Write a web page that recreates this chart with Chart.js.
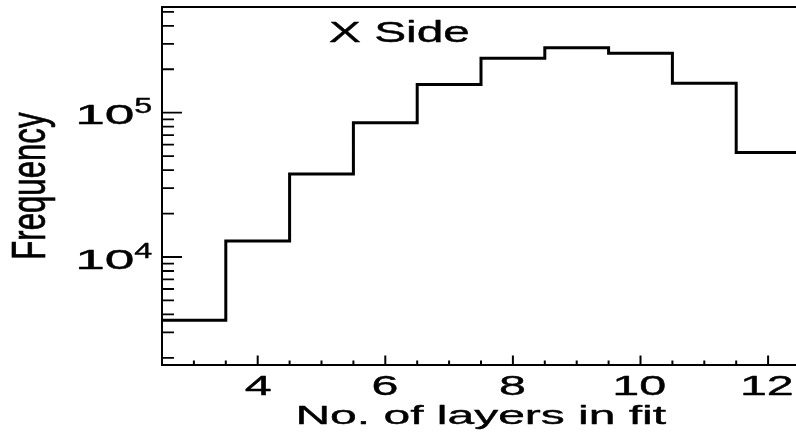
<!DOCTYPE html>
<html>
<head>
<meta charset="utf-8">
<script src="https://cdn.jsdelivr.net/npm/chart.js@4/dist/chart.umd.min.js"></script>
<style>
  html, body { margin: 0; padding: 0; background: #fff; overflow: hidden; }
  #wrap { position: relative; width: 796px; height: 433px; overflow: hidden; }
  canvas { display: block; }
</style>
</head>
<body>
<div id="wrap"><canvas id="c" width="806" height="433"></canvas></div>
<script>
// Number of layers used in the track fit (bin centres) and entries per bin
const layers = [3, 4, 5, 6, 7, 8, 9, 10, 11, 12];
const counts = [3650, 12900, 37600, 85200, 157000, 238000, 282000, 258000, 160000, 52900];
const binWidth = 1;

// Axis ranges and labelled ticks
const xRange = [2.5, 12.5];
const yRange = [1785, 540000];
const xMajorTicks = [4, 6, 8, 10, 12];
const xMinorStep = 0.5;
const yLabelPowers = [4, 5];

const xTitle = 'No. of layers in fit';
const yTitle = 'Frequency';
const panelLabel = 'X Side';

const FONT = '"Liberation Sans", Arial, Helvetica, sans-serif';

// Histogram outline: one point per lower bin edge, plus the closing upper edge
const outline = layers.map((c, i) => ({ x: c - binWidth / 2, y: counts[i] }));
outline.push({ x: layers[layers.length - 1] + binWidth / 2, y: counts[counts.length - 1] });

// Draw text so its ink box is anchored at (x, base); sx/sy stretch the glyphs
function drawInk(ctx, text, size, x, base, sx, sy, align, rot) {
  ctx.save();
  ctx.font = size + 'px ' + FONT;
  ctx.textAlign = 'left';
  ctx.textBaseline = 'alphabetic';
  const m = ctx.measureText(text);
  const w = m.actualBoundingBoxLeft + m.actualBoundingBoxRight;
  const start = align === 'left' ? 0 : (align === 'center' ? -w / 2 : -w);
  ctx.translate(x, base);
  if (rot) ctx.rotate(rot);
  ctx.scale(sx, sy);
  ctx.fillStyle = '#000';
  ctx.strokeStyle = '#000';
  ctx.lineWidth = 0.4;
  ctx.lineJoin = 'round';
  const tx = start + m.actualBoundingBoxLeft;
  ctx.fillText(text, tx, 0);
  ctx.strokeText(text, tx, 0);
  ctx.restore();
}

// Stretch text to a given ink width and ascent height
function fitInk(ctx, text, size, x, base, inkW, inkH, align, rot) {
  ctx.save();
  ctx.font = size + 'px ' + FONT;
  const m = ctx.measureText(text);
  ctx.restore();
  const sx = inkW / (m.actualBoundingBoxLeft + m.actualBoundingBoxRight);
  const sy = inkH / m.actualBoundingBoxAscent;
  drawInk(ctx, text, size, x, base, sx, sy, align, rot);
}

const framePlugin = {
  id: 'frame',
  beforeDraw(chart) {
    const ctx = chart.ctx;
    ctx.save();
    ctx.fillStyle = '#fff';
    ctx.fillRect(0, 0, chart.width, chart.height);
    ctx.restore();
  },
  afterDatasetsDraw(chart) {
    const ctx = chart.ctx;
    const a = chart.chartArea;
    const xs = chart.scales.x;
    const ys = chart.scales.y;

    ctx.save();
    ctx.strokeStyle = '#000';
    ctx.lineWidth = 2;
    ctx.lineCap = 'butt';

    // frame box
    ctx.beginPath();
    ctx.rect(a.left, a.top, a.right - a.left, a.bottom - a.top);
    ctx.stroke();

    // x ticks (pointing into the frame)
    ctx.beginPath();
    for (let v = xRange[0] + xMinorStep; v < xRange[1]; v += xMinorStep) {
      const px = xs.getPixelForValue(v);
      const len = xMajorTicks.includes(v) ? 9.5 : 4.5;
      ctx.moveTo(px, a.bottom);
      ctx.lineTo(px, a.bottom - len);
    }
    ctx.stroke();

    // y ticks on the log axis: decades long, 2..9 short
    ctx.lineWidth = 1.8;
    ctx.beginPath();
    const pLo = Math.floor(Math.log10(yRange[0]));
    const pHi = Math.ceil(Math.log10(yRange[1]));
    for (let p = pLo; p <= pHi; p++) {
      for (let k = 1; k <= 9; k++) {
        const v = k * Math.pow(10, p);
        if (v <= yRange[0] || v >= yRange[1]) continue;
        const py = ys.getPixelForValue(v);
        const len = k === 1 ? 20 : 12;
        ctx.moveTo(a.left, py);
        ctx.lineTo(a.left + len, py);
      }
    }
    ctx.stroke();
    ctx.restore();

    // x tick labels
    xMajorTicks.forEach(v => {
      drawInk(ctx, String(v), 28, xs.getPixelForValue(v), a.bottom + 29.5, 1.73, 1.0, 'center');
    });

    // y tick labels as powers of ten
    yLabelPowers.forEach(p => {
      const py = ys.getPixelForValue(Math.pow(10, p));
      drawInk(ctx, '10', 28, a.left - 28.7, py + 11.6, 1.9, 1.0, 'right');
      drawInk(ctx, String(p), 21.5, a.left - 27.7, py + 0.6, 1.5, 1.0, 'left');
    });

    // axis titles
    fitInk(ctx, xTitle, 27, (a.left + a.right) / 2 + 2, a.bottom + 58.5, 368, 19.5, 'center');
    fitInk(ctx, yTitle, 28, 45, (a.top + a.bottom) / 2 - 1, 145, 32.3, 'center', -Math.PI / 2);

    // panel label
    fitInk(ctx, panelLabel, 28, a.left + 167, a.top + 35, 140, 21, 'left');
  }
};

new Chart(document.getElementById('c').getContext('2d'), {
  type: 'line',
  data: {
    datasets: [{
      data: outline,
      stepped: 'before',
      borderColor: '#000',
      borderWidth: 3,
      borderCapStyle: 'butt',
      borderJoinStyle: 'miter',
      fill: false,
      pointRadius: 0
    }]
  },
  options: {
    responsive: false,
    animation: false,
    devicePixelRatio: 1,
    layout: { padding: { left: 162, top: 7, right: 6, bottom: 68 } },
    plugins: {
      legend: { display: false },
      tooltip: { enabled: false },
      title: { display: false }
    },
    scales: {
      x: { type: 'linear', min: xRange[0], max: xRange[1], display: false },
      y: { type: 'logarithmic', min: yRange[0], max: yRange[1], display: false }
    }
  },
  plugins: [framePlugin]
});
</script>
</body>
</html>
